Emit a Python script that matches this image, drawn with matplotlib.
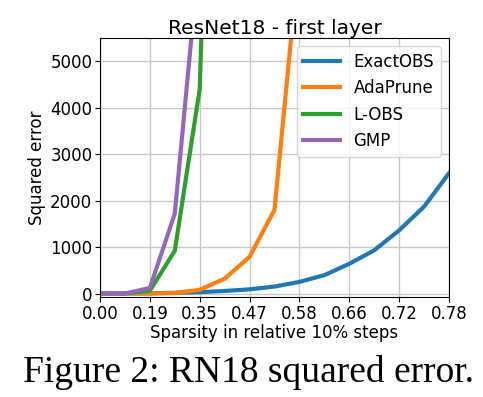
import matplotlib.pyplot as plt
import numpy as np

# sparsity step index (relative 10% steps)
steps_exact = list(range(15))
exact_obs = [0, 0, 5, 15, 30, 55, 90, 150, 250, 395, 640, 930, 1360, 1870, 2590]
ada_prune = [0, 0, 0, 10, 80, 320, 790, 1800, 7350]
l_obs = [0, 0, 60, 920, 4400, 21000]
gmp = [0, 0, 120, 1720, 7400]

tick_pos = [0, 2, 4, 6, 8, 10, 12, 14]
tick_labels = ['0.00', '0.19', '0.35', '0.47', '0.58', '0.66', '0.72', '0.78']

fig = plt.figure(figsize=(4.83, 3.97), dpi=100)
ax = fig.add_axes([100 / 483, 1 - 297 / 397, 349 / 483, 259 / 397])

ax.plot(steps_exact, exact_obs, color='#1f77b4', lw=3, label='ExactOBS')
ax.plot(range(len(ada_prune)), ada_prune, color='#ff7f0e', lw=3, label='AdaPrune')
ax.plot(range(len(l_obs)), l_obs, color='#2ca02c', lw=3, label='L-OBS')
ax.plot(range(len(gmp)), gmp, color='#9467bd', lw=3, label='GMP')

ax.set_xlim(0, 14)
ax.set_ylim(-75, 5500)
ax.set_xticks(tick_pos)
ax.set_xticklabels(tick_labels)
ax.set_yticks([0, 1000, 2000, 3000, 4000, 5000])
ax.tick_params(labelsize=12, pad=2)
ax.grid(True, color='#c8c8c8', lw=1)
ax.set_title('ResNet18 - first layer', fontsize=14.5, pad=3)
ax.set_xlabel('Sparsity in relative 10% steps', fontsize=12, labelpad=1)
ax.set_ylabel('Squared error', fontsize=12, labelpad=3)
ax.legend(loc='upper right', fontsize=12, handlelength=2.2)

fig.text(248 / 483, 1 - 372 / 397, 'Figure 2: RN18 squared error.', ha='center', va='center',
         family='Liberation Serif', fontsize=27)

fig.savefig('out.png', dpi=100)
